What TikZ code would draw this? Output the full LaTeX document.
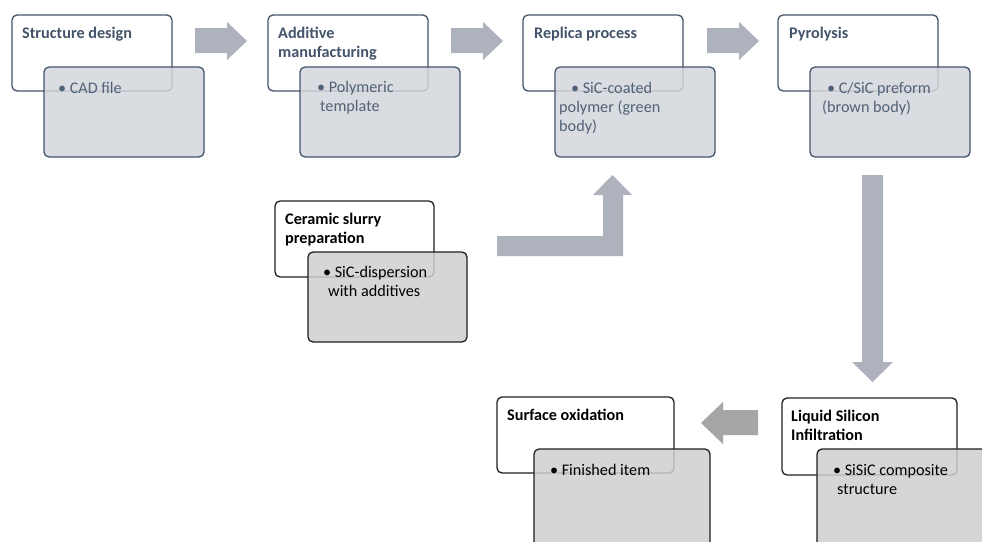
\documentclass[tikz,border=0pt]{standalone}
\usepackage{fontspec}
\setmainfont{Carlito}
\definecolor{slate}{HTML}{44546A}
\definecolor{slatetxt}{HTML}{526277}
\definecolor{topgray}{HTML}{D3D6DB}
\definecolor{botgray}{HTML}{CFCFCF}
\definecolor{arrowblue}{HTML}{ADB2BC}
\definecolor{arrowgray}{HTML}{A6A6A6}
\tikzset{
  base/.style={rounded corners=5pt, line width=1.3pt, anchor=north west, inner sep=0pt, outer sep=0pt},
  wtop/.style={base, draw=slate, fill=white, minimum width=160pt, minimum height=76pt},
  gtop/.style={base, draw=slate, fill=topgray, fill opacity=0.85, draw opacity=1, minimum width=160pt, minimum height=90pt},
  wbot/.style={base, draw=black!88, fill=white, minimum height=76pt},
  gbot/.style={base, draw=black!88, fill=botgray, fill opacity=0.85, draw opacity=1, minimum height=100pt},
  title/.style={anchor=base west, font=\bfseries\fontsize{16.2}{19}\selectfont, align=left, inner sep=0pt},
  ttop/.style={title, text=slate},
  tbot/.style={title, text=black},
  bul/.style={anchor=base west, font=\fontsize{16.2}{19}\selectfont, align=left, inner sep=0pt},
  btop/.style={bul, text=slatetxt},
  bbot/.style={bul, text=black},
  blockb/.style={fill=arrowblue},
  blockg/.style={fill=arrowgray},
}
\begin{document}
\begin{tikzpicture}[x=1pt,y=-1pt]
\clip (0,0) rectangle (982,541);
\fill[white] (0,0) rectangle (982,541);

% ---- top row ----
\node[wtop] (w1) at (12,15) {};
\node[gtop] (g1) at (44,67) {};
\node[wtop] (w2) at (268,15) {};
\node[gtop] (g2) at (300,67) {};
\node[wtop] (w3) at (523,15) {};
\node[gtop] (g3) at (555,67) {};
\node[wtop] (w4) at (778,15) {};
\node[gtop] (g4) at (810,67) {};

% (multi-line nodes: base anchor = baseline of the last line)
\node[ttop] (t1) at (22,38.5) {Structure design};
\node[ttop] (t2) at (278,57.5) {Additive\\manufacturing};
\node[ttop] (t3) at (534,38.5) {Replica process};
\node[ttop] (t4) at (789,38.5) {Pyrolysis};

\node[btop] (b1) at (58,93.5) {•\hspace{3.5pt}CAD file};
\node[btop] (b2) at (317,111.5) {•\hspace{3.5pt}Polymeric\\\hspace*{3pt}template};
\node[btop] (b3) at (559,131.5) {\hspace*{12pt}•\hspace{3.5pt}SiC-coated\\polymer (green\\body)};
\node[btop] (b4) at (822,112.5) {\hspace*{5pt}•\hspace{3.5pt}C/SiC preform\\(brown body)};

% ---- ceramic slurry ----
\node[wbot, minimum width=159pt] (w5) at (275,201) {};
\node[gbot, minimum width=159pt, minimum height=90pt] (g5) at (308,252) {};
\node[tbot] (t5) at (285,243) {Ceramic slurry\\preparation};
\node[bbot] (b5) at (323,296) {•\hspace{3.5pt}SiC-dispersion\\\hspace*{5pt}with additives};

% ---- bottom row ----
\node[wbot, minimum width=177pt] (w6) at (497,397) {};
\node[gbot, minimum width=176pt] (g6) at (534,449) {};
\node[tbot] (t6) at (507,420.5) {Surface oxidation};
\node[bbot] (b6) at (550,475.5) {•\hspace{3.5pt}Finished item};

\node[wbot, minimum width=175pt, minimum height=77pt] (w7) at (782,398) {};
\node[gbot, minimum width=176pt] (g7) at (817,449) {};
\node[tbot] (t7) at (791,440) {Liquid Silicon\\Infiltration};
\node[bbot] (b7) at (833,494) {•\hspace{3.5pt}SiSiC composite\\\hspace*{4pt}structure};

% ---- block arrows ----
\fill[blockb] (195,28) -- (227,28) -- (227,22) -- (247,41) -- (227,60) -- (227,53) -- (195,53) -- cycle;
\fill[blockb] (451,28) -- (483,28) -- (483,22) -- (503,41) -- (483,60) -- (483,53) -- (451,53) -- cycle;
\fill[blockb] (707,28) -- (739,28) -- (739,22) -- (759,41) -- (739,60) -- (739,53) -- (707,53) -- cycle;
\fill[blockb] (862,175) -- (883,175) -- (883,362) -- (893,362) -- (872.5,382) -- (852,362) -- (862,362) -- cycle;
\fill[blockb] (497,236) -- (603,236) -- (603,195) -- (593,195) -- (612.5,175) -- (632,195) -- (623,195) -- (623,256) -- (497,256) -- cycle;
\fill[blockg] (758,410) -- (723,410) -- (723,402) -- (701,423) -- (723,444) -- (723,435) -- (758,435) -- cycle;
\end{tikzpicture}
\end{document}
